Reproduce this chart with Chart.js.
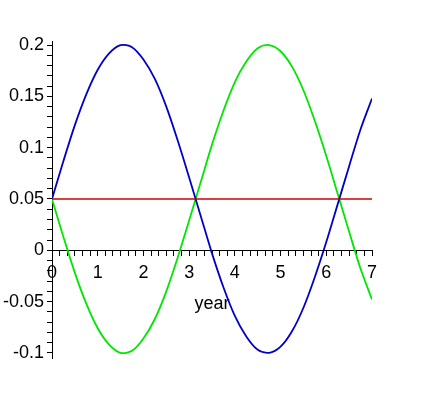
<!DOCTYPE html>
<html>
<head>
<meta charset="utf-8">
<script src="https://cdn.jsdelivr.net/npm/chart.js@4/dist/chart.umd.min.js"></script>
<style>
html,body{margin:0;padding:0;background:#fff;}
#wrap{width:424px;height:400px;position:relative;}
</style>
</head>
<body>
<div id="wrap"><canvas id="c" width="424" height="400"></canvas></div>
<script>
// Sample positions (years)
const years = [0,0.25,0.5,0.75,1,1.25,1.5,1.75,2,2.25,2.5,2.75,3,3.25,3.5,3.75,4,4.25,4.5,4.75,5,5.25,5.5,5.75,6,6.25,6.5,6.75,7];
// Blue curve
const blueValues = [0.050,0.087,0.122,0.152,0.176,0.192,0.200,0.198,0.186,0.167,0.140,0.107,0.071,0.034,-0.003,-0.036,-0.064,-0.084,-0.097,-0.100,-0.094,-0.079,-0.056,-0.026,0.008,0.045,0.082,0.118,0.148];
// Green curve
const greenValues = [0.050,0.013,-0.022,-0.052,-0.076,-0.092,-0.100,-0.098,-0.086,-0.067,-0.040,-0.007,0.029,0.066,0.103,0.136,0.164,0.184,0.197,0.200,0.194,0.179,0.156,0.126,0.092,0.055,0.018,-0.018,-0.048];
// Red constant line
const redYears = [0,7];
const redValues = [0.05,0.05];

// Tick labels
const xTickValues = [0,1,2,3,4,5,6,7];
const xTickLabels = ["0","1","2","3","4","5","6","7"];
const yTickValues = [-0.1,-0.05,0,0.05,0.1,0.15,0.2];
const yTickLabels = ["-0.1","-0.05","0","0.05","0.1","0.15","0.2"];
const xMinorPerMajor = 6;
const yMinorPerMajor = 5;

const toPts = (xs, ys) => xs.map((x, i) => ({x: x, y: ys[i]}));

function minorTicks(majors, perMajor, min, max) {
  const step = (majors[1] - majors[0]) / perMajor;
  const out = [];
  const start = Math.ceil((min - majors[0]) / step - 1e-9);
  const end = Math.floor((max - majors[0]) / step + 1e-9);
  for (let i = start; i <= end; i++) out.push({value: majors[0] + i * step});
  return out;
}
function labelFor(values, labels, v) {
  for (let i = 0; i < values.length; i++) if (Math.abs(values[i] - v) < 1e-7) return labels[i];
  return '';
}
const noPad = (s) => { s.paddingLeft = 0; s.paddingRight = 0; s.paddingTop = 0; s.paddingBottom = 0; };

const font = {family: '"Liberation Sans", Arial, sans-serif', size: 18};

new Chart(document.getElementById('c'), {
  type: 'line',
  data: {
    datasets: [
      {data: toPts(redYears, redValues), borderColor: '#cc0000', borderWidth: 1.5, pointRadius: 0},
      {data: toPts(years, blueValues), borderColor: '#0000c8', borderWidth: 1.8, pointRadius: 0, tension: 0.3},
      {data: toPts(years, greenValues), borderColor: '#00e600', borderWidth: 1.8, pointRadius: 0, tension: 0.3}
    ]
  },
  options: {
    responsive: false,
    animation: false,
    events: [],
    layout: {padding: {left: 0, right: 52, top: 41, bottom: 42}},
    plugins: {legend: {display: false}, tooltip: {enabled: false}},
    scales: {
      x: {
        type: 'linear',
        position: {y: 0},
        min: 0, max: 7,
        border: {display: true, color: '#000', width: 1},
        grid: {drawOnChartArea: false, drawTicks: true, tickLength: 5, color: '#000', tickWidth: 1},
        ticks: {autoSkip: false, maxRotation: 0, padding: 7, color: '#000', font: font,
          callback: (v) => labelFor(xTickValues, xTickLabels, v)},
        afterBuildTicks: (s) => { s.ticks = minorTicks(xTickValues, xMinorPerMajor, 0, 7); },
        afterFit: noPad,
        title: {display: true, text: 'year', color: '#000', font: font, padding: {top: 2, bottom: 0}}
      },
      y: {
        type: 'linear',
        position: 'left',
        min: -0.105, max: 0.204,
        border: {display: true, color: '#000', width: 1},
        grid: {drawOnChartArea: false, drawTicks: true, tickLength: 5, color: '#000', tickWidth: 1},
        ticks: {autoSkip: false, padding: 3, color: '#000', font: font,
          callback: (v) => labelFor(yTickValues, yTickLabels, v)},
        afterBuildTicks: (s) => { s.ticks = minorTicks(yTickValues, yMinorPerMajor, -0.105, 0.204); },
        afterFit: (s) => { noPad(s); s.width = 52; }
      }
    }
  }
});
</script>
</body>
</html>
